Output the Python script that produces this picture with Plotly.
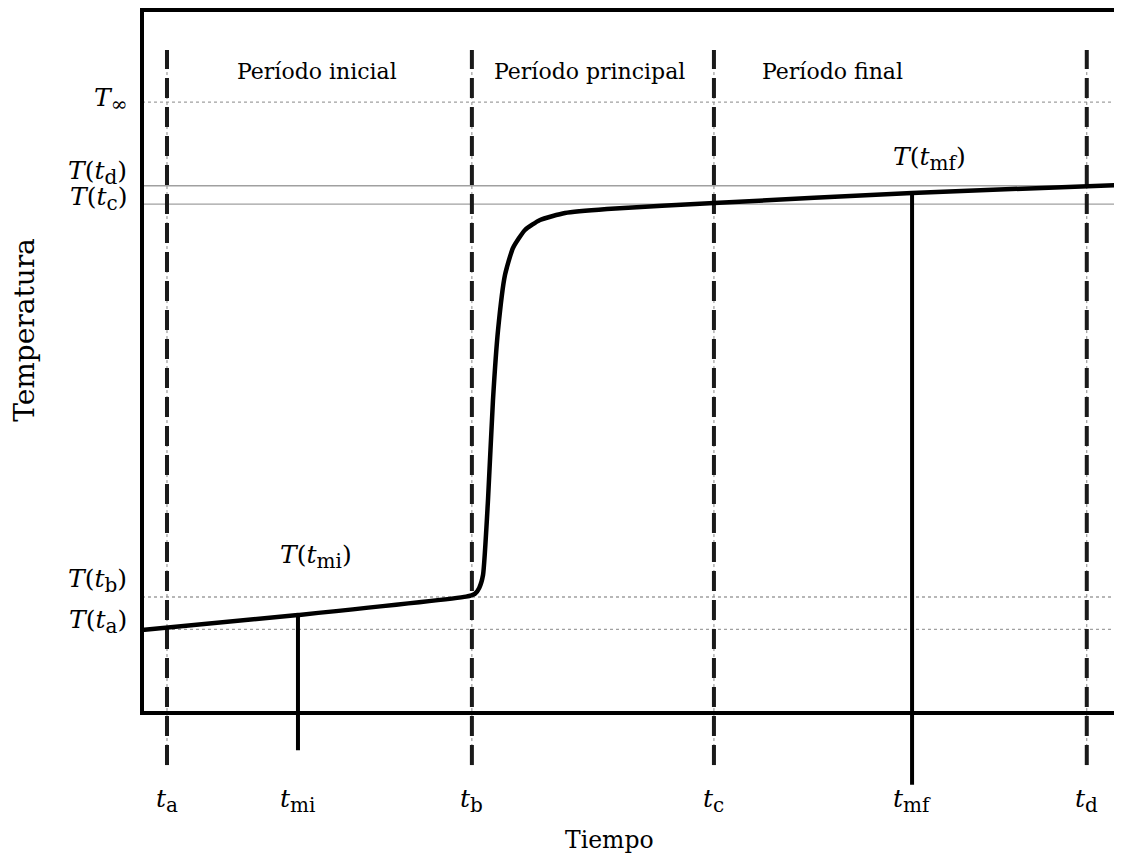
import plotly.graph_objects as go

# ---- data (time in arbitrary units 0-100, temperature in arbitrary units 0-100) ----
time_names = ["a", "mi", "b", "c", "mf", "d"]
time_values = [2.56, 15.98, 33.8, 58.6, 78.9, 96.8]
dashed_times = [2.56, 33.8, 58.6, 96.8]

temp_names = ["∞", "d", "c", "b", "a"]
temp_values = [86.9, 75.0, 72.4, 16.5, 11.9]

curve_t = [0.0, 15.98, 33.2, 34.1, 34.55, 34.94, 35.45, 35.96, 36.48, 37.19, 38.01,
           39.24, 40.78, 43.34, 47.64, 58.61, 78.89, 100.0]
curve_T = [11.81, 13.94, 16.55, 16.95, 17.8, 19.63, 30.30, 44.52, 54.48, 62.30, 66.15,
           68.71, 70.13, 71.12, 71.69, 72.55, 73.97, 75.11]

T_mi = 13.94
T_mf = 73.97
period_labels = ["Período inicial", "Período principal", "Período final"]
period_centers = [17.93, 45.9, 70.7]

FONT = "DejaVu Serif"
MATH = 25
SUB = 20
fig = go.Figure()

# horizontal reference lines
for T, dash in zip(temp_values, ["dot", "solid", "solid", "dot", "dot"]):
    fig.add_trace(go.Scatter(x=[0, 100], y=[T, T], mode="lines",
                             line=dict(color="#a0a0a0", width=1.3, dash=dash),
                             hoverinfo="skip", showlegend=False))

# dashed vertical lines
for t in dashed_times:
    fig.add_trace(go.Scatter(x=[t, t], y=[-7.4, 94.3], mode="lines",
                             line=dict(color="#888", width=1, dash="dot"),
                             hoverinfo="skip", showlegend=False))
    fig.add_trace(go.Scatter(x=[t, t], y=[-7.4, 94.3], mode="lines",
                             line=dict(color="#1a1a1a", width=4, dash="20px,9px"),
                             hoverinfo="skip", showlegend=False))

# solid verticals at t_mi and t_mf
fig.add_trace(go.Scatter(x=[time_values[1]] * 2, y=[T_mi, -5.3], mode="lines",
                         line=dict(color="black", width=4), hoverinfo="skip", showlegend=False))
fig.add_trace(go.Scatter(x=[time_values[4]] * 2, y=[T_mf, -10.2], mode="lines",
                         line=dict(color="black", width=4), hoverinfo="skip", showlegend=False))

# temperature curve
fig.add_trace(go.Scatter(x=curve_t, y=curve_T, mode="lines",
                         line=dict(color="black", width=4.5, shape="spline", smoothing=0.5),
                         hoverinfo="skip", showlegend=False))

# frame
fig.add_shape(type="rect", x0=0, x1=100, y0=0, y1=100, xref="x", yref="y",
              line=dict(color="black", width=4), layer="above")


def sub(s):
    return f"<sub><span style='font-size:{SUB}px'>{s}</span></sub>"


mf = dict(family=FONT, size=MATH, color="black")
ann = []
for name, t in zip(time_names, time_values):
    ann.append(dict(x=t, y=-12.4, xref="x", yref="y", showarrow=False,
                    text=f"<i>t</i>{sub(name)}", font=mf, xanchor="center", yanchor="middle"))
temp_label_y = [87.2, 76.9, 73.2, 18.8, 13.0]
for name, T, ly in zip(temp_names, temp_values, temp_label_y):
    txt = f"<i>T</i>{sub('∞')}" if name == "∞" else f"<i>T</i>(<i>t</i>{sub(name)})"
    ann.append(dict(x=-1.3, y=ly, xref="x", yref="y", showarrow=False, text=txt,
                    font=mf, xanchor="right", yanchor="middle"))
ann.append(dict(x=17.8, y=22.3, xref="x", yref="y", showarrow=False,
                text=f"<i>T</i>(<i>t</i>{sub('mi')})", font=mf))
ann.append(dict(x=80.7, y=78.9, xref="x", yref="y", showarrow=False,
                text=f"<i>T</i>(<i>t</i>{sub('mf')})", font=mf))
for lab, c in zip(period_labels, period_centers):
    ann.append(dict(x=c, y=91.2, xref="x", yref="y", showarrow=False, text=lab,
                    font=dict(family=FONT, size=22, color="black")))
ann.append(dict(x=47.85, y=-18.1, xref="x", yref="y", showarrow=False, text="Tiempo",
                font=dict(family=FONT, size=23.5, color="black")))
ann.append(dict(x=-12.0, y=54.5, xref="x", yref="y", showarrow=False, text="Temperatura",
                textangle=-90, font=dict(family=FONT, size=28, color="black")))

# page has an 8px body margin, so the figure is 8px smaller and the ranges reach the page edges
fig.update_layout(
    width=1114, height=849,
    margin=dict(l=0, r=0, t=0, b=0),
    plot_bgcolor="white", paper_bgcolor="white",
    xaxis=dict(range=[-13.73, 100.41], visible=False),
    yaxis=dict(range=[-20.48, 100.285], visible=False),
    annotations=ann,
)
fig.write_html("out.html")
